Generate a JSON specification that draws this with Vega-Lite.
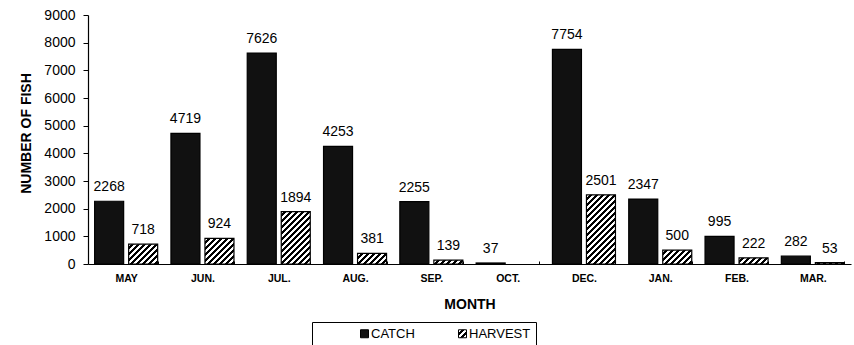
{
  "$schema": "https://vega.github.io/schema/vega-lite/v6.json",
  "width": 763,
  "height": 249,
  "autosize": {"type": "none"},
  "padding": {"left": 88, "top": 15, "right": 3, "bottom": 81},
  "background": "white",
  "params": [
    {"name": "hatch", "value": [
      {"offset": 0, "color": "#fff"},
      {"offset": 0.03, "color": "#fff"}, {"offset": 0.03, "color": "#000"},
      {"offset": 0.06, "color": "#000"}, {"offset": 0.06, "color": "#fff"},
      {"offset": 0.09, "color": "#fff"}, {"offset": 0.09, "color": "#000"},
      {"offset": 0.12, "color": "#000"}, {"offset": 0.12, "color": "#fff"},
      {"offset": 0.15, "color": "#fff"}, {"offset": 0.15, "color": "#000"},
      {"offset": 0.18, "color": "#000"}, {"offset": 0.18, "color": "#fff"},
      {"offset": 0.21, "color": "#fff"}, {"offset": 0.21, "color": "#000"},
      {"offset": 0.24, "color": "#000"}, {"offset": 0.24, "color": "#fff"},
      {"offset": 0.27, "color": "#fff"}, {"offset": 0.27, "color": "#000"},
      {"offset": 0.30, "color": "#000"}, {"offset": 0.30, "color": "#fff"},
      {"offset": 0.33, "color": "#fff"}, {"offset": 0.33, "color": "#000"},
      {"offset": 0.36, "color": "#000"}, {"offset": 0.36, "color": "#fff"},
      {"offset": 0.39, "color": "#fff"}, {"offset": 0.39, "color": "#000"},
      {"offset": 0.42, "color": "#000"}, {"offset": 0.42, "color": "#fff"},
      {"offset": 0.45, "color": "#fff"}, {"offset": 0.45, "color": "#000"},
      {"offset": 0.48, "color": "#000"}, {"offset": 0.48, "color": "#fff"},
      {"offset": 0.51, "color": "#fff"}, {"offset": 0.51, "color": "#000"},
      {"offset": 0.54, "color": "#000"}, {"offset": 0.54, "color": "#fff"},
      {"offset": 0.57, "color": "#fff"}, {"offset": 0.57, "color": "#000"},
      {"offset": 0.60, "color": "#000"}, {"offset": 0.60, "color": "#fff"},
      {"offset": 0.63, "color": "#fff"}, {"offset": 0.63, "color": "#000"},
      {"offset": 0.66, "color": "#000"}, {"offset": 0.66, "color": "#fff"},
      {"offset": 0.69, "color": "#fff"}, {"offset": 0.69, "color": "#000"},
      {"offset": 0.72, "color": "#000"}, {"offset": 0.72, "color": "#fff"},
      {"offset": 0.75, "color": "#fff"}, {"offset": 0.75, "color": "#000"},
      {"offset": 0.78, "color": "#000"}, {"offset": 0.78, "color": "#fff"},
      {"offset": 0.81, "color": "#fff"}, {"offset": 0.81, "color": "#000"},
      {"offset": 0.84, "color": "#000"}, {"offset": 0.84, "color": "#fff"},
      {"offset": 0.87, "color": "#fff"}, {"offset": 0.87, "color": "#000"},
      {"offset": 0.90, "color": "#000"}, {"offset": 0.90, "color": "#fff"},
      {"offset": 0.93, "color": "#fff"}, {"offset": 0.93, "color": "#000"},
      {"offset": 0.96, "color": "#000"}, {"offset": 0.96, "color": "#fff"},
      {"offset": 0.99, "color": "#fff"}, {"offset": 0.99, "color": "#000"},
      {"offset": 1, "color": "#000"}
    ]}
  ],
  "data": {"values": [
    {"month": "MAY", "type": "CATCH", "n": 2268},
    {"month": "MAY", "type": "HARVEST", "n": 718},
    {"month": "JUN.", "type": "CATCH", "n": 4719},
    {"month": "JUN.", "type": "HARVEST", "n": 924},
    {"month": "JUL.", "type": "CATCH", "n": 7626},
    {"month": "JUL.", "type": "HARVEST", "n": 1894},
    {"month": "AUG.", "type": "CATCH", "n": 4253},
    {"month": "AUG.", "type": "HARVEST", "n": 381},
    {"month": "SEP.", "type": "CATCH", "n": 2255},
    {"month": "SEP.", "type": "HARVEST", "n": 139},
    {"month": "OCT.", "type": "CATCH", "n": 37},
    {"month": "DEC.", "type": "CATCH", "n": 7754},
    {"month": "DEC.", "type": "HARVEST", "n": 2501},
    {"month": "JAN.", "type": "CATCH", "n": 2347},
    {"month": "JAN.", "type": "HARVEST", "n": 500},
    {"month": "FEB.", "type": "CATCH", "n": 995},
    {"month": "FEB.", "type": "HARVEST", "n": 222},
    {"month": "MAR.", "type": "CATCH", "n": 282},
    {"month": "MAR.", "type": "HARVEST", "n": 53}
  ]},
  "encoding": {
    "x": {
      "field": "month", "type": "nominal",
      "scale": {"domain": ["MAY", "JUN.", "JUL.", "AUG.", "SEP.", "OCT.", "DEC.", "JAN.", "FEB.", "MAR."], "paddingInner": 0.174, "paddingOuter": 0.087},
      "axis": {
        "title": "MONTH", "labelAngle": 0, "labelFontWeight": "bold", "labelFontSize": 10.5,
        "labelPadding": 12, "tickBand": "extent", "tickSize": -3, "titleFontSize": 14, "titlePadding": 14
      }
    },
    "xOffset": {
      "field": "type", "type": "nominal",
      "scale": {"domain": ["CATCH", "HARVEST"], "paddingInner": 0.147, "paddingOuter": 0}
    },
    "y": {
      "field": "n", "type": "quantitative",
      "scale": {"domain": [0, 9000], "nice": false},
      "axis": {
        "title": "NUMBER OF FISH", "values": [0, 1000, 2000, 3000, 4000, 5000, 6000, 7000, 8000, 9000], "format": "d",
        "grid": false, "labelFontSize": 14, "labelPadding": 8, "tickSize": 5, "titleFontSize": 14, "titlePadding": 10, "titleY": 118
      }
    }
  },
  "layer": [
    {
      "mark": {"type": "bar", "stroke": "#000000", "strokeWidth": 1.2},
      "encoding": {
        "fill": {
          "field": "type", "type": "nominal",
          "scale": {"domain": ["CATCH", "HARVEST"], "range": [{"expr": "'#111111'"}, {"expr": "{gradient: 'linear', x1: 0, y1: 0, x2: 6.25, y2: 6.25, stops: hatch}"}]},
          "condition": {
            "test": "datum.type === 'HARVEST'",
            "value": {"expr": "{gradient: 'linear', x1: 0, y1: 0, x2: 100*29/(841+pow(datum.n*249/9000,2)), y2: 100*(datum.n*249/9000)/(841+pow(datum.n*249/9000,2)), stops: hatch}"}
          },
          "legend": {
            "title": null, "orient": "none", "direction": "horizontal",
            "legendX": 224, "legendY": 307,
            "strokeColor": "#000000", "padding": 5,
            "symbolType": "square", "symbolSize": 64, "symbolStrokeColor": "#000000", "symbolStrokeWidth": 1,
            "symbolOffset": 41, "labelOffset": 0, "columnPadding": 0,
            "labelFontSize": 13, "labelColor": "#000000"
          }
        }
      }
    },
    {
      "mark": {"type": "text", "baseline": "alphabetic", "dy": -10, "fontSize": 14, "color": "#000000"},
      "encoding": {"text": {"field": "n", "type": "quantitative", "format": "d"}}
    }
  ],
  "config": {
    "font": "Liberation Sans",
    "view": {"stroke": null},
    "axis": {
      "labelColor": "#000000", "titleColor": "#000000", "domainColor": "#000000", "tickColor": "#000000",
      "labelFont": "Liberation Sans", "titleFont": "Liberation Sans", "titleFontWeight": "bold", "domainWidth": 1.2, "tickWidth": 1
    },
    "legend": {"labelFont": "Liberation Sans"}
  }
}
